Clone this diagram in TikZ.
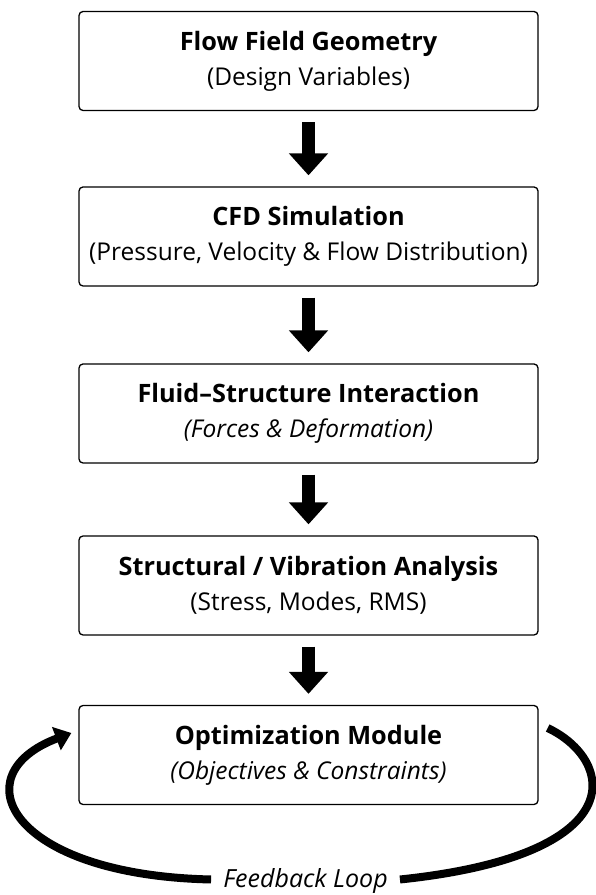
\documentclass[tikz,border=0pt]{standalone}
\usepackage{fontspec}
\setmainfont{Open Sans}
\usepackage{tikz}
\usetikzlibrary{arrows.meta, positioning, calc}
\tikzset{
    etapa/.style  = {draw=black, line width=1.3pt, rounded corners=4pt, fill=white,
                     minimum width=459pt, minimum height=99pt, align=center, inner sep=2pt,
                     font=\fontsize{24.5}{35}\selectfont},
    seta/.style   = {-{Triangle[width=38pt, length=22pt]}, line width=13pt, black,
                     shorten <=11pt, shorten >=11pt},
    laco/.style   = {line width=8pt, black},
}
\newcommand{\titulo}[1]{{\fontsize{25.3}{35}\selectfont\bfseries #1}}

\begin{document}
\begin{tikzpicture}[x=1pt, y=1pt]
        \useasboundingbox (0,0) rectangle (595,895);
        % etapas do fluxo
        \node[etapa] (geom) at (308.5,834)   {\titulo{Flow Field Geometry}\\ (Design Variables)};
        \node[etapa] (cfd)  at (308.5,658.5) {\titulo{CFD Simulation}\\ (Pressure, Velocity \& Flow Distribution)};
        \node[etapa] (fsi)  at (308.5,481.5) {\titulo{Fluid--Structure Interaction}\\ \textit{(Forces \& Deformation)}};
        \node[etapa] (estr) at (308.5,309.5) {\titulo{Structural / Vibration Analysis}\\ (Stress, Modes, RMS)};
        \node[etapa] (otim) at (308.5,140)   {\titulo{Optimization Module}\\ \textit{(Objectives \& Constraints)}};
        % setas entre etapas
        \draw[seta] (geom) -- (cfd);
        \draw[seta] (cfd) -- (fsi);
        \draw[seta] (fsi) -- (estr);
        \draw[seta] (estr) -- (otim);
        % laco de realimentacao
        \node[anchor=base, inner xsep=12pt, text height=15pt, text depth=0pt,
              font=\fontsize{25}{28}\selectfont\itshape] (fb) at (305.5,8) {Feedback Loop};
        \coordinate (fbout) at ($(otim.east)+(9,27)$);
        \coordinate (fbin)  at ($(otim.west)+(-7,22)$);
        \draw[laco] (fbout) .. controls (615,135) and (635,40) .. (fb.east);
        \draw[laco, -{Triangle[width=24pt, length=16pt]}] (fb.west) .. controls (10,20) and (-40,120) .. (fbin);
    \end{tikzpicture}
\end{document}
